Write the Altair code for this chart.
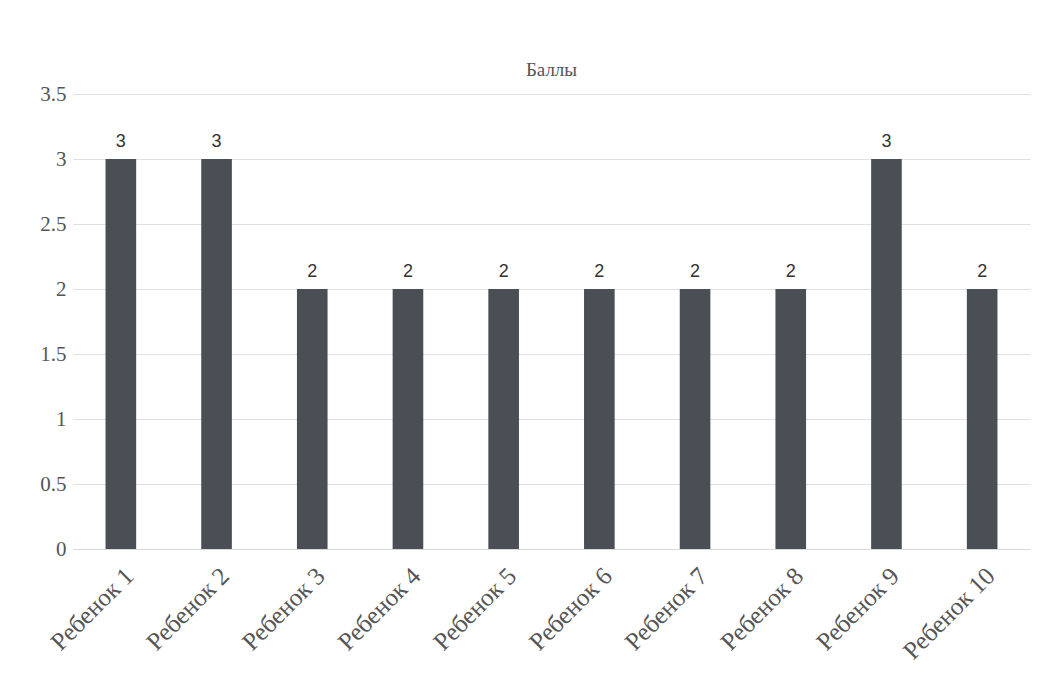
import altair as alt
import pandas as pd

children = ["Ребенок 1", "Ребенок 2", "Ребенок 3", "Ребенок 4", "Ребенок 5",
            "Ребенок 6", "Ребенок 7", "Ребенок 8", "Ребенок 9", "Ребенок 10"]
scores = [3, 3, 2, 2, 2, 2, 2, 2, 3, 2]

df = pd.DataFrame({"child": children, "score": scores})

x_enc = alt.X("child:N", sort=children, title=None,
              scale=alt.Scale(paddingInner=0.68, paddingOuter=0.34),
              axis=alt.Axis(labelAngle=-45, labelFont="Liberation Serif",
                            labelFontSize=25, labelColor="#555555",
                            labelAlign="right", labelBaseline="top",
                            labelPadding=14, ticks=False,
                            domainColor="#d9d9d9", grid=False))
y_enc = alt.Y("score:Q", title=None,
              scale=alt.Scale(domain=[0, 3.5]),
              axis=alt.Axis(values=[0, 0.5, 1, 1.5, 2, 2.5, 3, 3.5],
                            format="~g", labelFont="Liberation Serif",
                            labelFontSize=21, labelColor="#555555",
                            labelPadding=7, ticks=False, domain=False,
                            gridColor="#e0e0e0"))

bars = alt.Chart(df).mark_bar(color="#4a4f56").encode(x=x_enc, y=y_enc)

labels = alt.Chart(df).mark_text(
    dy=-17, font="Liberation Sans", fontSize=18, color="#333333"
).encode(x=alt.X("child:N", sort=children), y="score:Q", text="score:Q")

chart = alt.layer(bars, labels).properties(
    width=957, height=455,
    title=alt.TitleParams("Баллы", font="Liberation Serif", fontSize=19,
                          fontWeight="normal", color="#555555", offset=3),
    padding={"left": 73, "top": 94, "right": 11, "bottom": 139},
    autosize=alt.AutoSizeParams(type="none"),
).configure_view(stroke=None)

chart.save("out.html", embed_options={"renderer": "svg", "actions": False})
